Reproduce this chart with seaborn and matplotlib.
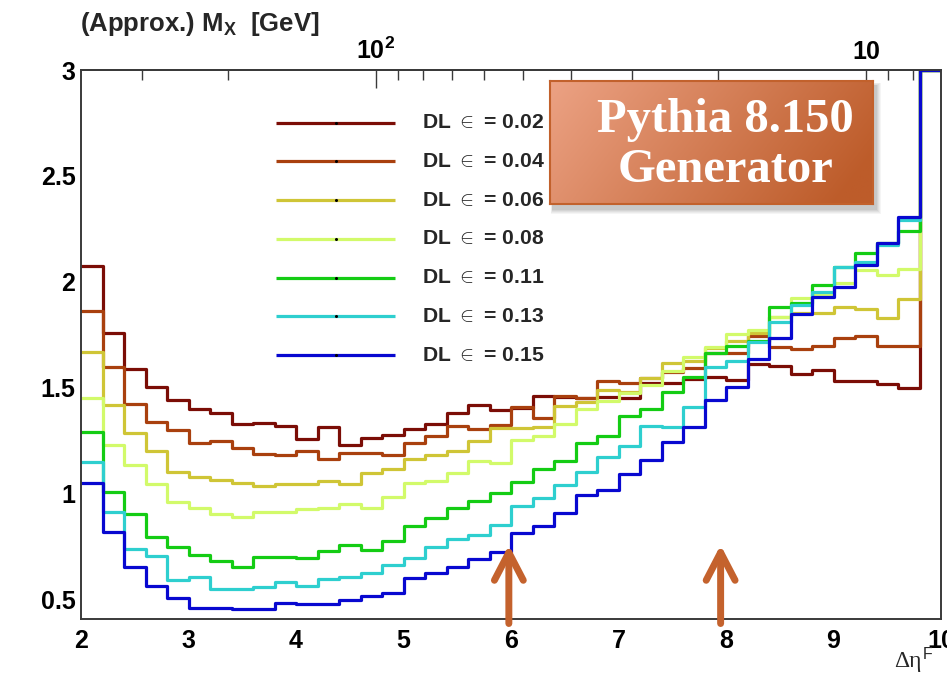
import numpy as np
import pandas as pd
import matplotlib
matplotlib.use("Agg")
import matplotlib.pyplot as plt
from matplotlib.ticker import FixedLocator, MultipleLocator, FuncFormatter, NullFormatter
from matplotlib.patches import Rectangle
import seaborn as sns

sns.set_theme(style="white")
plt.rcParams["font.family"] = ["Liberation Sans", "DejaVu Sans"]
plt.rcParams["font.weight"] = "bold"
plt.rcParams["mathtext.fontset"] = "custom"
plt.rcParams["mathtext.rm"] = "Liberation Sans:bold"
plt.rcParams["mathtext.bf"] = "Liberation Sans:bold"
plt.rcParams["mathtext.it"] = "Liberation Sans:bold"
plt.rcParams["mathtext.fallback"] = "cm"

# ---- data: 40 bins of 0.2 in Delta eta^F from 2 to 10 ----
bin_edges = np.linspace(2.0, 10.0, 41)

dl_labels = ["0.02", "0.04", "0.06", "0.08", "0.11", "0.13", "0.15"]
dl_colors = ["#7B0D06", "#A9400E", "#CFC536", "#D2FA6A", "#14CC14", "#2ECFCF", "#0808D0"]

dl_002 = [2.074, 1.756, 1.586, 1.504, 1.441, 1.398, 1.381, 1.326, 1.334, 1.318,
          1.255, 1.312, 1.230, 1.260, 1.276, 1.304, 1.326, 1.381, 1.416, 1.394,
          1.405, 1.460, 1.457, 1.449, 1.457, 1.449, 1.520, 1.523, 1.539, 1.548,
          1.536, 1.610, 1.600, 1.562, 1.583, 1.530, 1.530, 1.518, 1.496, 3.000]
dl_004 = [1.863, 1.595, 1.422, 1.337, 1.299, 1.238, 1.246, 1.214, 1.186, 1.180,
          1.202, 1.164, 1.189, 1.189, 1.180, 1.239, 1.271, 1.318, 1.304, 1.325,
          1.406, 1.354, 1.460, 1.452, 1.531, 1.520, 1.543, 1.575, 1.594, 1.661,
          1.661, 1.743, 1.690, 1.680, 1.696, 1.732, 1.745, 1.696, 1.696, 3.000]
dl_006 = [1.668, 1.417, 1.284, 1.202, 1.101, 1.079, 1.063, 1.050, 1.036, 1.042,
          1.042, 1.060, 1.044, 1.095, 1.113, 1.161, 1.181, 1.199, 1.246, 1.307,
          1.307, 1.312, 1.412, 1.430, 1.488, 1.480, 1.545, 1.617, 1.625, 1.688,
          1.720, 1.756, 1.832, 1.851, 1.854, 1.882, 1.870, 1.827, 1.916, 3.000]
dl_008 = [1.449, 1.230, 1.134, 1.044, 0.961, 0.929, 0.901, 0.887, 0.913, 0.913,
          0.928, 0.932, 0.948, 0.929, 0.984, 1.050, 1.060, 1.095, 1.154, 1.142,
          1.252, 1.271, 1.326, 1.400, 1.436, 1.473, 1.512, 1.578, 1.645, 1.693,
          1.755, 1.770, 1.835, 1.921, 1.937, 1.995, 2.055, 2.031, 2.058, 3.000]
dl_011 = [1.291, 1.008, 0.901, 0.792, 0.745, 0.709, 0.682, 0.654, 0.698, 0.701,
          0.693, 0.729, 0.756, 0.732, 0.775, 0.846, 0.882, 0.929, 0.964, 1.003,
          1.055, 1.113, 1.154, 1.236, 1.271, 1.365, 1.397, 1.480, 1.551, 1.662,
          1.696, 1.721, 1.882, 1.897, 1.984, 2.070, 2.137, 2.181, 2.238, 3.000]
dl_013 = [1.150, 0.913, 0.735, 0.704, 0.590, 0.606, 0.548, 0.548, 0.559, 0.579,
          0.564, 0.595, 0.606, 0.625, 0.661, 0.693, 0.748, 0.784, 0.803, 0.850,
          0.940, 0.976, 1.039, 1.099, 1.173, 1.224, 1.318, 1.312, 1.409, 1.595,
          1.627, 1.716, 1.811, 1.890, 1.953, 2.071, 2.094, 2.173, 2.290, 3.000]
dl_015 = [1.050, 0.819, 0.650, 0.562, 0.504, 0.457, 0.460, 0.455, 0.455, 0.480,
          0.476, 0.476, 0.496, 0.515, 0.531, 0.598, 0.622, 0.654, 0.688, 0.721,
          0.811, 0.846, 0.909, 0.992, 1.016, 1.090, 1.158, 1.244, 1.312, 1.440,
          1.504, 1.633, 1.732, 1.847, 1.926, 1.976, 2.079, 2.184, 2.305, 3.000]

series_values = [dl_002, dl_004, dl_006, dl_008, dl_011, dl_013, dl_015]

# top axis: approximate diffractive mass, Delta eta = A - B ln(M_X)
MX_A, MX_B = 13.86, 1.98
mx_major = [10, 100]
mx_minor = [8, 9, 20, 30, 40, 50, 60, 70, 80, 90, 200, 300]

arrow_positions = [5.98, 7.95]

# long-form table: each histogram as a step outline over the bin edges
frames = []
for lab, vals in zip(dl_labels, series_values):
    frames.append(pd.DataFrame({"deta": bin_edges,
                                "value": list(vals) + [vals[-1]],
                                "dl": lab}))
df = pd.concat(frames, ignore_index=True)

W, H = 947, 676
fig = plt.figure(figsize=(W / 100, H / 100), dpi=100)
fig.patch.set_facecolor("white")

ax_l, ax_r, ax_t, ax_b = 81, 941, 70, 619.3
ax = fig.add_axes([ax_l / W, 1 - ax_b / H, (ax_r - ax_l) / W, (ax_b - ax_t) / H])
ax.set_facecolor("white")

for i, (lab, col) in enumerate(zip(dl_labels, dl_colors)):
    sns.lineplot(data=df[df["dl"] == lab], x="deta", y="value", color=col,
                 linewidth=2.3, drawstyle="steps-post", estimator=None,
                 sort=False, legend=False, ax=ax, zorder=2 + 0.01 * i)

ax.set_xlim(2, 10)
ax.set_ylim(0.405, 3.0)
ax.set_xlabel("")
ax.set_ylabel("")

frame_col = "#3a3a3a"
for sp in ax.spines.values():
    sp.set_visible(True)
    sp.set_color(frame_col)
    sp.set_linewidth(1.4)

ax.xaxis.set_major_locator(MultipleLocator(1))
ax.xaxis.set_minor_locator(MultipleLocator(0.2))
ax.yaxis.set_major_locator(MultipleLocator(0.5))
ax.yaxis.set_minor_locator(MultipleLocator(0.1))
fmt = FuncFormatter(lambda v, p: f"{v:g}")
ax.xaxis.set_major_formatter(fmt)
ax.yaxis.set_major_formatter(fmt)

TICK_FS = 18
ax.tick_params(axis="both", which="both", direction="in", top=False, right=False,
               color=frame_col, width=1.0, labelcolor="black", labelsize=TICK_FS)
ax.tick_params(axis="x", which="major", length=12, pad=7)
ax.tick_params(axis="x", which="minor", length=6.5)
ax.tick_params(axis="y", which="major", length=18, pad=4)
ax.tick_params(axis="y", which="minor", length=9)
for lbl in ax.get_xticklabels() + ax.get_yticklabels():
    lbl.set_fontweight("bold")


def deta_to_mx(d):
    return np.exp((MX_A - np.asarray(d, dtype=float)) / MX_B)


def mx_to_deta(m):
    return MX_A - MX_B * np.log(np.clip(np.asarray(m, dtype=float), 1e-9, None))


sec = ax.secondary_xaxis("top", functions=(deta_to_mx, mx_to_deta))
sec.xaxis.set_major_locator(FixedLocator(mx_major))
sec.xaxis.set_minor_locator(FixedLocator(mx_minor))
sec.xaxis.set_minor_formatter(NullFormatter())
sec.xaxis.set_major_formatter(FuncFormatter(
    lambda v, p: r"$\mathbf{10^{2}}$" if v > 50 else "10"))
sec.tick_params(axis="x", which="both", direction="in", color=frame_col,
                width=1.0, labelsize=TICK_FS, labelcolor="black", pad=4)
sec.tick_params(axis="x", which="major", length=13)
sec.tick_params(axis="x", which="minor", length=7)
sec.spines["top"].set_color(frame_col)
sec.spines["top"].set_linewidth(1.4)

fig.text(80 / W, 1 - 31 / H, r"(Approx.) M$_{\mathbf{X}}$  [GeV]",
         ha="left", va="baseline", fontsize=18.5, fontweight="bold")

# bottom-right axis title: Delta eta with superscript F
fig.text(922 / W, 1 - 667 / H, "\u0394\u03b7", ha="right", va="baseline",
         fontsize=17, fontweight="normal", family=["Liberation Serif", "DejaVu Serif"])
fig.text(923 / W, 1 - 659 / H, "F", ha="left", va="baseline",
         fontsize=11.5, fontweight="normal", family=["Liberation Sans", "DejaVu Sans"])

# legend drawn as line samples with labels
def fx(px):
    return (px - ax_l) / (ax_r - ax_l)


def fy(py):
    return (ax_b - py) / (ax_b - ax_t)


for i, (lab, col) in enumerate(zip(dl_labels, dl_colors)):
    ypx = 122.7 + i * 38.75
    ax.plot([fx(276), fx(395)], [fy(ypx), fy(ypx)], color=col, lw=2.3,
            transform=ax.transAxes, solid_capstyle="butt", zorder=5)
    ax.plot([fx(335.5)], [fy(ypx)], marker="o", ms=1.2, color="black",
            transform=ax.transAxes, zorder=6)
    ax.text(fx(422), fy(ypx), r"DL $\in$ = " + lab, transform=ax.transAxes,
            ha="left", va="center", fontsize=15.2, fontweight="bold", zorder=6)

# arrows marking the two Delta eta cuts
for xa in arrow_positions:
    ax.annotate("", xy=(xa, 0.756), xytext=(xa, 0.385), xycoords="data",
                arrowprops=dict(arrowstyle="->,head_length=1.0,head_width=0.52",
                                mutation_scale=20, lw=5, color="#C4622D",
                                shrinkA=0, shrinkB=0, capstyle="round",
                                joinstyle="round"),
                annotation_clip=False, zorder=7)

# generator box with gradient fill and soft shadow
bx0, bx1, by0, by1 = 550, 873, 81, 204
for k, a in enumerate([0.05, 0.05, 0.06, 0.07, 0.08]):
    g = 8 - 1.5 * k
    fig.patches.append(Rectangle(((bx0 + 3 - g * 0.3) / W, 1 - (by1 + 5 + g * 0.6) / H),
                                 (bx1 - bx0 + g * 0.9) / W, (by1 - by0 + g) / H,
                                 transform=fig.transFigure, facecolor="#404040",
                                 edgecolor="none", alpha=a, zorder=8))
bax = fig.add_axes([bx0 / W, 1 - by1 / H, (bx1 - bx0) / W, (by1 - by0) / H], zorder=10)
nx, ny = 300, 100
tx = np.linspace(0, 1, nx)[None, :]
ty = np.linspace(0, 1, ny)[:, None]
t = np.clip(0.85 * tx + 0.25 * ty, 0, 1)
c_left = np.array([236, 162, 132]) / 255
c_right = np.array([189, 92, 42]) / 255
grad = c_left[None, None, :] * (1 - t[..., None]) + c_right[None, None, :] * t[..., None]
bax.imshow(grad, aspect="auto", extent=[0, 1, 0, 1], origin="upper")
bax.set_xlim(0, 1)
bax.set_ylim(0, 1)
bax.set_xticks([])
bax.set_yticks([])
for sp in bax.spines.values():
    sp.set_color("#C2612C")
    sp.set_linewidth(1.5)
bax.text(0.542, 0.588, "Pythia 8.150", ha="center", va="baseline", color="white",
         fontsize=35, fontweight="bold", family=["Liberation Serif", "DejaVu Serif"])
bax.text(0.542, 0.181, "Generator", ha="center", va="baseline", color="white",
         fontsize=35, fontweight="bold", family=["Liberation Serif", "DejaVu Serif"])

fig.savefig("out.png", dpi=100, facecolor="white")
